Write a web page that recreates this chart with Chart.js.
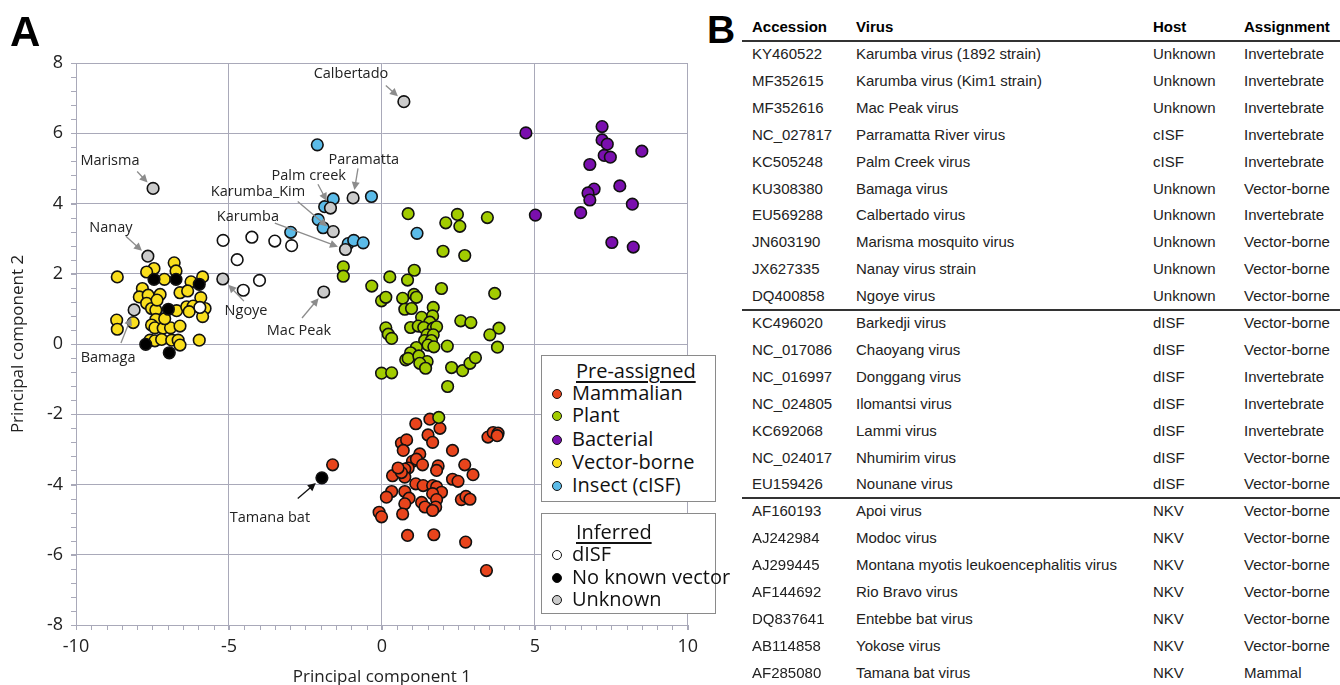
<!DOCTYPE html>
<html>
<head>
<meta charset="utf-8">
<script src="https://cdn.jsdelivr.net/npm/chart.js@4.4.1/dist/chart.umd.min.js"></script>
<style>
  body { margin: 0; background: #fff; width: 1340px; height: 685px; overflow: hidden; position: relative; }
  #panelA { position: absolute; left: 0; top: 0; width: 704px; height: 700px; }
  .plabel { position: absolute; font-family: "Liberation Sans", Arial, sans-serif; font-weight: bold; line-height: 1; color: #000; }
  .legbox { position: absolute; background: #fff; border: 1.5px solid #8a8a8a; box-sizing: border-box;
            font-family: "Open Sans", sans-serif; font-size: 20px; color: #111; }
  .legbox .head { position: absolute; left: 34px; text-decoration: underline; text-underline-offset: 3px; line-height: 22px; }
  .legbox .row { position: absolute; left: 10px; line-height: 22px; white-space: nowrap; }
  .legbox .dot { display: inline-block; width: 8px; height: 8px; border: 1.5px solid #111; border-radius: 50%;
                 margin-right: 10px; vertical-align: 1px; }
  .cell { position: absolute; font-family: "Liberation Sans", Arial, sans-serif; font-size: 15px; color: #222;
          line-height: 20px; white-space: nowrap; }
  .hdr { font-weight: bold; color: #000; }
  .rule { position: absolute; left: 742px; width: 598px; height: 2px; background: #333; }
</style>
</head>
<body>
<div id="panelA"><canvas id="pca" width="704" height="700"></canvas></div>
<div class="plabel" style="left:10px; top:11px; font-size:42px;">A</div>
<div class="plabel" style="left:707px; top:10px; font-size:39px;">B</div>
<div id="legends"></div>
<div id="table"></div>

<script>
// PCA scores: [PC1, PC2]
const mammalian = [
  [1.11, -2.27], [1.57, -2.14], [1.9, -2.4], [1.51, -2.59], [1.66, -2.8], [0.64, -2.82], [0.81, -2.73],
  [0.7, -3.03], [1.24, -3.13], [2.31, -3.03], [3.47, -2.65], [3.64, -2.52], [3.8, -2.54], [3.77, -2.61],
  [1.0, -3.34], [1.13, -3.28], [1.33, -3.44], [0.86, -3.53], [0.59, -3.6], [0.75, -3.56], [0.35, -3.75],
  [0.75, -3.79], [0.64, -3.66], [1.84, -3.47], [1.79, -3.6], [2.71, -3.44], [2.98, -3.72], [2.31, -3.85],
  [2.49, -3.91], [1.11, -3.98], [1.35, -4.03], [1.66, -4.03], [1.79, -4.07], [1.95, -4.22], [1.66, -4.26],
  [0.32, -4.2], [0.15, -4.36], [0.75, -4.2], [0.89, -4.39], [0.75, -4.55], [1.3, -4.51], [1.41, -4.64],
  [1.79, -4.43], [1.76, -4.64], [1.66, -4.74], [2.6, -4.43], [2.75, -4.34], [2.88, -4.42], [-0.09, -4.79],
  [-0.01, -4.92], [0.68, -4.84], [0.84, -5.45], [1.7, -5.43], [2.74, -5.64], [3.42, -6.45], [-1.61, -3.44],
  [0.53, -3.53]
];
const plant = [
  [0.86, 3.71], [2.47, 3.69], [2.09, 3.45], [2.55, 3.35], [3.45, 3.6], [2.0, 2.64], [2.71, 2.52],
  [-1.26, 2.2], [-1.26, 1.93], [0.26, 1.91], [1.06, 2.1], [0.84, 1.82], [-0.33, 1.65], [1.95, 1.58],
  [3.69, 1.44], [-0.01, 1.23], [0.13, 1.33], [0.68, 1.3], [1.05, 1.41], [1.13, 1.33], [0.75, 0.99],
  [0.97, 1.01], [1.68, 1.04], [1.3, 0.76], [1.66, 0.8], [1.57, 0.62], [0.94, 0.47], [1.19, 0.51],
  [1.37, 0.47], [1.68, 0.45], [1.79, 0.49], [1.48, 0.26], [1.68, 0.26], [1.4, 0.1], [1.62, 0.1],
  [0.13, 0.46], [0.21, 0.28], [0.32, 0.16], [2.58, 0.66], [2.91, 0.61], [3.83, 0.45], [3.53, 0.26],
  [1.51, -0.03], [1.7, -0.08], [2.14, -0.06], [3.78, -0.09], [1.13, -0.1], [0.94, -0.25], [0.78, -0.45],
  [0.86, -0.41], [1.21, -0.34], [1.48, -0.5], [1.24, -0.55], [1.43, -0.69], [2.28, -0.67], [2.64, -0.76],
  [2.88, -0.55], [3.06, -0.39], [-0.01, -0.83], [0.32, -0.82], [2.15, -1.21], [1.86, -2.09]
];
const bacterial = [
  [4.71, 6.01], [7.2, 6.19], [7.2, 5.81], [7.37, 5.69], [8.5, 5.49], [7.27, 5.37], [7.47, 5.32],
  [6.8, 5.11], [7.78, 4.5], [6.94, 4.41], [6.74, 4.3], [6.8, 4.1], [8.19, 3.98], [6.5, 3.74],
  [5.02, 3.67], [7.52, 2.89], [8.22, 2.76]
];
const vectorBorne = [
  [-8.65, 1.91], [-7.45, 2.15], [-7.69, 2.05], [-6.79, 2.31], [-6.73, 2.08], [-7.11, 1.84], [-6.24, 1.77],
  [-5.86, 1.91], [-7.83, 1.58], [-7.93, 1.34], [-7.64, 1.39], [-7.25, 1.41], [-6.6, 1.46], [-6.35, 1.51],
  [-5.92, 1.32], [-7.69, 1.16], [-7.53, 1.01], [-7.39, 0.97], [-6.71, 0.95], [-6.38, 1.06], [-6.17, 1.08],
  [-6.3, 0.92], [-5.78, 1.01], [-5.86, 0.78], [-8.67, 0.68], [-8.65, 0.42], [-8.13, 0.61], [-7.39, 0.7],
  [-7.53, 0.54], [-7.42, 0.46], [-7.15, 0.45], [-6.91, 0.46], [-6.6, 0.51], [-7.58, 0.11], [-7.42, 0.09],
  [-7.2, 0.13], [-6.87, 0.11], [-6.66, 0.11], [-6.6, -0.03], [-5.97, 0.11], [-7.35, 1.25], [-7.1, 0.72]
];
const insect = [
  [-2.11, 5.67], [-1.59, 4.13], [-1.87, 3.91], [-0.34, 4.2], [-2.08, 3.54], [-1.92, 3.31], [-2.98, 3.18],
  [-1.1, 2.86], [-0.92, 2.95], [-0.61, 2.88], [1.15, 3.15]
];
const dISF = [
  [-5.19, 2.95], [-4.25, 3.04], [-3.5, 2.93], [-2.95, 2.8], [-4.73, 2.4], [-4.0, 1.81], [-4.53, 1.53],
  [-5.95, 1.04]
];
const noVector = [
  [-1.96, -3.81], [-7.45, 1.84], [-6.73, 1.84], [-5.97, 1.7], [-6.98, 0.99], [-7.72, -0.01], [-6.95, -0.25]
];
const unknown = [
  [0.72, 6.9], [-7.48, 4.43], [-7.65, 2.5], [-8.1, 0.97], [-5.2, 1.85], [-1.9, 1.48], [-1.68, 3.87],
  [-1.59, 3.2], [-1.19, 2.69], [-0.94, 4.16]
];

// callouts: label centre, arrow start, arrow target (data units)
const callouts = [
  { text: 'Calbertado',  label: [-1.01, 7.70], from: [0.13, 7.36],   to: [0.72, 6.9] },
  { text: 'Marisma',     label: [-8.89, 5.20], from: [-8.0, 4.91],   to: [-7.48, 4.43] },
  { text: 'Nanay',       label: [-8.86, 3.32], from: [-8.37, 3.07],  to: [-7.65, 2.5] },
  { text: 'Bamaga',      label: [-8.95, -0.40], from: [-8.53, 0.03], to: [-8.1, 0.97] },
  { text: 'Ngoye',       label: [-4.44, 0.94], from: [-4.51, 1.22],  to: [-5.2, 1.85] },
  { text: 'Mac Peak',    label: [-2.71, 0.37], from: [-2.61, 0.74],  to: [-1.9, 1.48] },
  { text: 'Karumba_Kim', label: [-4.05, 4.32], from: [-2.75, 4.06],  to: [-1.59, 3.2] },
  { text: 'Palm creek',  label: [-2.39, 4.80], from: [-2.09, 4.55],  to: [-1.68, 3.87] },
  { text: 'Paramatta',   label: [-0.59, 5.23], from: [-0.78, 5.0],   to: [-0.94, 4.16] },
  { text: 'Karumba',     label: [-4.38, 3.61], from: [-3.5, 3.44],   to: [-1.19, 2.69] },
  { text: 'Tamana bat',  label: [-3.66, -4.94], from: [-2.75, -4.4], to: [-1.96, -3.81], dark: true }
];

// panel B table
const accessions = ['KY460522', 'MF352615', 'MF352616', 'NC_027817', 'KC505248', 'KU308380', 'EU569288',
  'JN603190', 'JX627335', 'DQ400858', 'KC496020', 'NC_017086', 'NC_016997', 'NC_024805', 'KC692068',
  'NC_024017', 'EU159426', 'AF160193', 'AJ242984', 'AJ299445', 'AF144692', 'DQ837641', 'AB114858', 'AF285080'];
const viruses = ['Karumba virus (1892 strain)', 'Karumba virus (Kim1 strain)', 'Mac Peak virus',
  'Parramatta River virus', 'Palm Creek virus', 'Bamaga virus', 'Calbertado virus', 'Marisma mosquito virus',
  'Nanay virus strain', 'Ngoye virus', 'Barkedji virus', 'Chaoyang virus', 'Donggang virus', 'Ilomantsi virus',
  'Lammi virus', 'Nhumirim virus', 'Nounane virus', 'Apoi virus', 'Modoc virus',
  'Montana myotis leukoencephalitis virus', 'Rio Bravo virus', 'Entebbe bat virus', 'Yokose virus',
  'Tamana bat virus'];
const hosts = ['Unknown', 'Unknown', 'Unknown', 'cISF', 'cISF', 'Unknown', 'Unknown', 'Unknown', 'Unknown',
  'Unknown', 'dISF', 'dISF', 'dISF', 'dISF', 'dISF', 'dISF', 'dISF', 'NKV', 'NKV', 'NKV', 'NKV', 'NKV', 'NKV', 'NKV'];
const assignments = ['Invertebrate', 'Invertebrate', 'Invertebrate', 'Invertebrate', 'Invertebrate',
  'Vector-borne', 'Invertebrate', 'Vector-borne', 'Vector-borne', 'Vector-borne', 'Vector-borne',
  'Vector-borne', 'Invertebrate', 'Invertebrate', 'Invertebrate', 'Vector-borne', 'Vector-borne',
  'Vector-borne', 'Vector-borne', 'Vector-borne', 'Vector-borne', 'Vector-borne', 'Vector-borne', 'Mammal'];
const groupBreaks = [10, 17];

const series = [
  { label: 'Mammalian', data: mammalian, color: '#e8441c', order: 8 },
  { label: 'Plant', data: plant, color: '#a2cc00', order: 7 },
  { label: 'Bacterial', data: bacterial, color: '#7a0fae', order: 6 },
  { label: 'Vector-borne', data: vectorBorne, color: '#f9de1c', order: 5 },
  { label: 'Insect (cISF)', data: insect, color: '#5bbbe8', order: 4 },
  { label: 'dISF', data: dISF, color: '#ffffff', order: 3 },
  { label: 'No known vector', data: noVector, color: '#000000', order: 2 },
  { label: 'Unknown', data: unknown, color: '#cbcbcb', order: 1 }
];

const GRID = '#a9a9b9';
Chart.defaults.font.family = "'Open Sans', sans-serif";

const minorTicks = {
  id: 'minorTicks',
  afterDraw(chart) {
    const { ctx, chartArea: a, scales: { x, y } } = chart;
    ctx.save();
    ctx.strokeStyle = GRID;
    ctx.lineWidth = 1;
    ctx.beginPath();
    for (let i = 0; i <= 40; i++) {
      const px = Math.round(x.getPixelForValue(-10 + i * 0.5)) + 0.5;
      ctx.moveTo(px, a.bottom);
      ctx.lineTo(px, a.bottom + 5);
    }
    for (let i = 0; i <= 40; i++) {
      const py = Math.round(y.getPixelForValue(-8 + i * 0.4)) + 0.5;
      ctx.moveTo(a.left - 5, py);
      ctx.lineTo(a.left, py);
    }
    ctx.stroke();
    ctx.restore();
  }
};

const calloutPlugin = {
  id: 'callouts',
  afterDatasetsDraw(chart) {
    const { ctx, scales: { x, y } } = chart;
    ctx.save();
    ctx.font = "14.5px 'Open Sans', sans-serif";
    ctx.textAlign = 'center';
    ctx.textBaseline = 'middle';
    callouts.forEach((c) => {
      const col = c.dark ? '#111' : '#8c8c8c';
      const x0 = x.getPixelForValue(c.from[0]), y0 = y.getPixelForValue(c.from[1]);
      let x1 = x.getPixelForValue(c.to[0]), y1 = y.getPixelForValue(c.to[1]);
      const dx = x1 - x0, dy = y1 - y0, len = Math.hypot(dx, dy);
      const ux = dx / len, uy = dy / len;
      x1 -= ux * 8; y1 -= uy * 8;
      ctx.strokeStyle = col;
      ctx.fillStyle = col;
      ctx.lineWidth = 1.3;
      ctx.beginPath();
      ctx.moveTo(x0, y0);
      ctx.lineTo(x1 - ux * 5, y1 - uy * 5);
      ctx.stroke();
      ctx.beginPath();
      ctx.moveTo(x1, y1);
      ctx.lineTo(x1 - ux * 8 - uy * 4, y1 - uy * 8 + ux * 4);
      ctx.lineTo(x1 - ux * 8 + uy * 4, y1 - uy * 8 - ux * 4);
      ctx.closePath();
      ctx.fill();
      ctx.fillStyle = '#222';
      ctx.fillText(c.text, x.getPixelForValue(c.label[0]), y.getPixelForValue(c.label[1]));
    });
    ctx.restore();
  }
};

new Chart(document.getElementById('pca').getContext('2d'), {
  type: 'scatter',
  data: {
    datasets: series.map((s) => ({
      label: s.label,
      data: s.data.map((p) => ({ x: p[0], y: p[1] })),
      backgroundColor: s.color,
      borderColor: '#111',
      borderWidth: 1.6,
      pointRadius: 5.8,
      order: s.order
    }))
  },
  options: {
    responsive: false,
    animation: false,
    layout: { padding: { top: 63, right: 8, left: 0, bottom: 0 } },
    plugins: { legend: { display: false }, tooltip: { enabled: false } },
    scales: {
      x: {
        type: 'linear', min: -10, max: 10,
        ticks: { stepSize: 5, color: '#222', font: { size: 18 }, padding: 6 },
        grid: { color: GRID, tickLength: 5 },
        border: { color: GRID },
        title: { display: true, text: 'Principal component 1', color: '#222', font: { size: 17 }, padding: { top: 0, bottom: 13 } },
        afterFit: (s) => { s.height = 75; }
      },
      y: {
        min: -8, max: 8,
        ticks: { stepSize: 2, color: '#222', font: { size: 18 }, padding: 8 },
        grid: { color: GRID, tickLength: 5 },
        border: { color: GRID },
        title: { display: true, text: 'Principal component 2', color: '#222', font: { size: 17 }, padding: { top: 8, bottom: 0 } },
        afterFit: (s) => { s.width = 76; }
      }
    }
  },
  plugins: [minorTicks, calloutPlugin]
});

// legend boxes
const legendGroups = [
  { title: 'Pre-assigned', items: series.slice(0, 5), top: 355, height: 147, headY: 371, rowY: [393, 415, 439, 462, 485] },
  { title: 'Inferred', items: series.slice(5), top: 513, height: 101, headY: 532, rowY: [554, 577, 599] }
];
const legends = document.getElementById('legends');
legendGroups.forEach((g) => {
  const box = document.createElement('div');
  box.className = 'legbox';
  box.style.left = '541px';
  box.style.top = g.top + 'px';
  box.style.width = '175px';
  box.style.height = g.height + 'px';
  const head = document.createElement('div');
  head.className = 'head';
  head.textContent = g.title;
  head.style.top = (g.headY - g.top - 12) + 'px';
  box.appendChild(head);
  g.items.forEach((it, i) => {
    const row = document.createElement('div');
    row.className = 'row';
    row.style.top = (g.rowY[i] - g.top - 12) + 'px';
    const dot = document.createElement('span');
    dot.className = 'dot';
    dot.style.background = it.color;
    row.appendChild(dot);
    row.appendChild(document.createTextNode(it.label));
    box.appendChild(row);
  });
  legends.appendChild(box);
});

// table
const table = document.getElementById('table');
const colX = [752, 856, 1153, 1244];
const addCell = (txt, x, yc, cls) => {
  const d = document.createElement('div');
  d.className = cls;
  d.textContent = txt;
  d.style.left = x + 'px';
  d.style.top = (yc - 10) + 'px';
  table.appendChild(d);
};
['Accession', 'Virus', 'Host', 'Assignment'].forEach((h, i) => addCell(h, colX[i], 27, 'cell hdr'));
const rule = (y) => {
  const r = document.createElement('div');
  r.className = 'rule';
  r.style.top = (y - 1) + 'px';
  table.appendChild(r);
};
rule(41);
accessions.forEach((acc, i) => {
  const yc = 54 + i * 26.9;
  addCell(acc, colX[0], yc, 'cell');
  addCell(viruses[i], colX[1], yc, 'cell');
  addCell(hosts[i], colX[2], yc, 'cell');
  addCell(assignments[i], colX[3], yc, 'cell');
});
groupBreaks.forEach((b) => rule(54 + (b - 0.5) * 26.9));
</script>
</body>
</html>
